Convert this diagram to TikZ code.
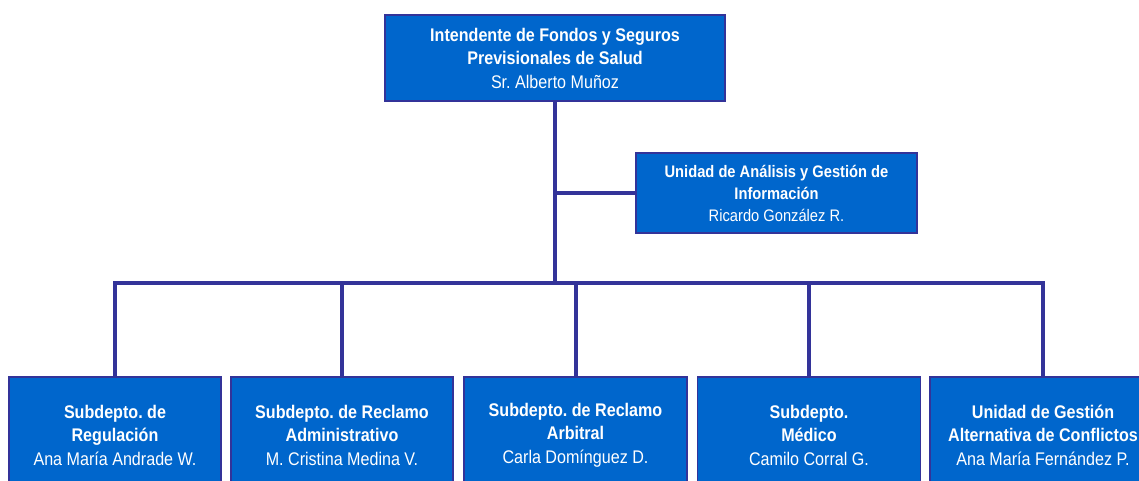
\documentclass[tikz,border=0pt]{standalone}
\usepackage{fontspec}
\setmainfont[FakeStretch=0.88]{Liberation Sans}
\usepackage{tikz}
\usetikzlibrary{positioning,calc}
\definecolor{unitblue}{HTML}{0066CC}
\definecolor{orgline}{HTML}{333399}
\frenchspacing

\begin{document}
\begin{tikzpicture}[x=1pt,y=-1pt,
    every node/.append style={text=white, align=center, inner sep=0pt},
    unit/.style={draw=orgline, line width=1.3pt, fill=unitblue,
                 font=\fontsize{18.3}{23.5}\selectfont},
    smallunit/.style={unit, font=\fontsize{16.7}{22}\selectfont},
    link/.style={draw=orgline, line width=4pt}]
    \useasboundingbox (0,0) rectangle (1139,480);
    % head of the unit
    \node[unit, minimum width=340pt, minimum height=86pt] (head) at (555,58)
      {\textbf{Intendente de Fondos y Seguros}\\\textbf{Previsionales de Salud}\\Sr. Alberto Muñoz};
    \node[smallunit, minimum width=281pt, minimum height=80pt] (info) at (776.5,193)
      {\textbf{Unidad de Análisis y Gestión de}\\\textbf{Información}\\Ricardo González R.};
    % subdepartments
    \node[unit, minimum width=212pt, minimum height=116pt] (reg) at (115,435)
      {\textbf{Subdepto. de}\\\textbf{Regulación}\\Ana María Andrade W.};
    \node[unit, minimum width=222pt, minimum height=116pt] (adm) at (342,435)
      {\textbf{Subdepto. de Reclamo}\\\textbf{Administrativo}\\M. Cristina Medina V.};
    \node[unit, minimum width=223pt, minimum height=116pt] (arb) at (575.5,435)
      {\textbf{Subdepto. de Reclamo}\\\textbf{Arbitral}\\Carla Domínguez D.};
    \node[unit, minimum width=223pt, minimum height=116pt] (med) at (809,435)
      {\textbf{Subdepto.}\\\textbf{Médico}\\Camilo Corral G.};
    \node[unit, minimum width=226pt, minimum height=116pt] (ugac) at (1043,435)
      {\textbf{Unidad de Gestión}\\\textbf{Alternativa de Conflictos}\\Ana María Fernández P.};
    % connectors
    \coordinate (bus) at (0,283);
    \draw[link] (head.south) -- (head.south |- bus);
    \draw[link] (info.west) -- (info.west -| head.south);
    \draw[link, line cap=rect] (reg.north |- bus) -- (ugac.north |- bus);
    \foreach \n in {reg,adm,arb,med,ugac}
      \draw[link] (\n.north |- bus) -- (\n.north);
\end{tikzpicture}
\end{document}
